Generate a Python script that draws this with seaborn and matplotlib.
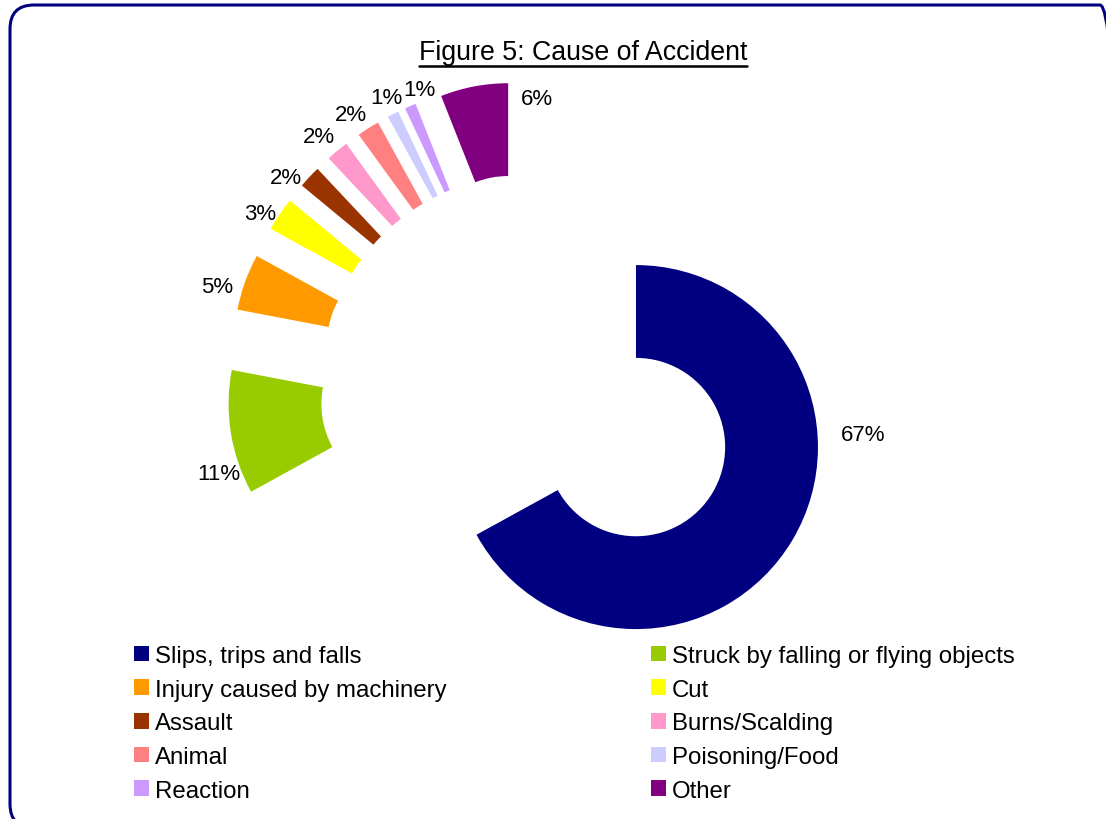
import numpy as np
import seaborn as sns
from matplotlib import pyplot as plt
from matplotlib.patches import FancyBboxPatch
from matplotlib.lines import Line2D

causes = ['Slips, trips and falls', 'Struck by falling or flying objects',
          'Injury caused by machinery', 'Cut', 'Assault', 'Burns/Scalding',
          'Animal', 'Poisoning/Food', 'Reaction', 'Other']
share = [67, 11, 5, 3, 2, 2, 2, 1, 1, 6]
colors = ['#000080', '#99CC00', '#FF9900', '#FFFF00', '#993300',
          '#FF99CC', '#FF8080', '#CCCCFF', '#CC99FF', '#800080']

sns.set_theme(style='white')
plt.rcParams['font.family'] = ['Liberation Sans', 'DejaVu Sans']

W, H = 1106, 820
R_PX = 182            # outer radius in pixels
CX, CY = 531, 386     # pie centre, pixels from top-left


def px(x, y):
    # pixel (from top-left) -> data units (1 unit = pie radius)
    return (x - CX) / R_PX, (CY - y) / R_PX


fig = plt.figure(figsize=(W / 100, H / 100), dpi=100)
ax = fig.add_axes([0, 0, 1, 1])

wedges, _ = ax.pie(share, colors=colors, startangle=90, counterclock=False,
                   radius=1, explode=[0.67] * len(share),
                   wedgeprops=dict(width=0.51, linewidth=0))

x0, y0 = px(0, H)
x1, y1 = px(W, 0)
ax.set_xlim(x0, x1)
ax.set_ylim(y0, y1)
ax.set_aspect('auto')
ax.axis('off')

# percentage labels: (angle shift from slice middle in degrees, distance
# from pie centre in radii) - roughly where excel's best fit put them
label_pos = [(-22.2, 1.844), (-6.8, 1.781), (-2.4, 1.806), (-1.8, 1.761),
             (-2.9, 1.766), (-0.8, 1.795), (-1.3, 1.785), (0.3, 1.767),
             (2.7, 1.733), (12.0, 1.572)]
total = sum(share)
cum = np.cumsum([0] + share[:-1])
for i, v in enumerate(share):
    mid = (cum[i] + v / 2) / total * 360   # clockwise from 12 o'clock
    shift, dist = label_pos[i]
    a = np.deg2rad(mid + shift)
    ax.text(dist * np.sin(a), dist * np.cos(a), f'{v / total * 100:.0f}%',
            ha='center', va='center', fontsize=16, color='black')

# title with underline
title = fig.text(583 / W, 1 - 60 / H, 'Figure 5: Cause of Accident',
                 ha='center', va='baseline', fontsize=19.3, color='black')
fig.canvas.draw()
bb = title.get_window_extent()
fig.add_artist(Line2D([bb.x0 / W, bb.x1 / W], [1 - 67 / H, 1 - 67 / H],
                      transform=fig.transFigure, color='black', lw=1.8))

# rounded outer frame, runs off the right and bottom edges
fx, fy = px(10, 829)
frame = FancyBboxPatch((fx, fy), 1114 / R_PX, 823 / R_PX,
                       boxstyle=f'round,pad=0,rounding_size={24 / R_PX}',
                       facecolor='none', edgecolor='#000080', lw=2.2,
                       clip_on=False)
ax.add_patch(frame)

# legend: two columns, row-major order
for col, xpos in enumerate([134, 651]):
    idx = list(range(col, len(causes), 2))
    leg = fig.legend([wedges[i] for i in idx], [causes[i] for i in idx],
                     loc='upper left', bbox_to_anchor=(xpos / W, 1 - 646 / H),
                     frameon=False, fontsize=17.3, handlelength=0.62,
                     handleheight=0.62, handletextpad=0.25, labelspacing=0.485,
                     borderpad=0, borderaxespad=0)
    for t in leg.get_texts():
        t.set_color('black')

fig.savefig('out.png', dpi=100, facecolor='white')
